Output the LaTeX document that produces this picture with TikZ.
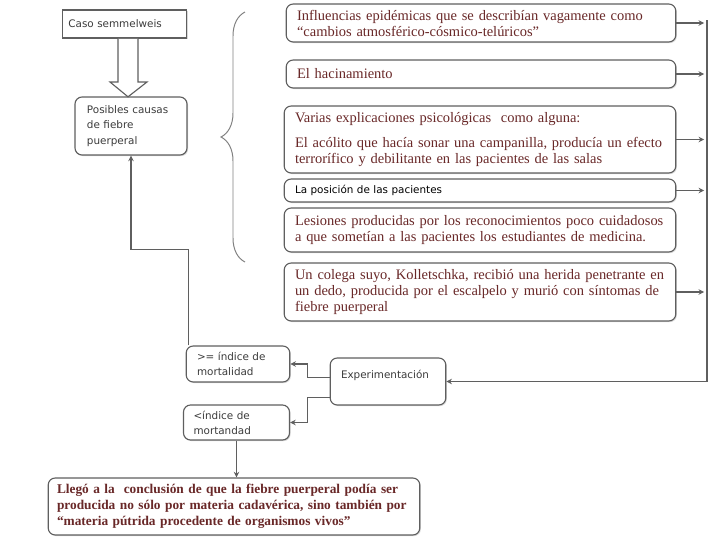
\documentclass[tikz,border=0pt]{standalone}
\usepackage{fontspec}
\setmainfont{Liberation Serif}
\setsansfont{DejaVu Sans}
\usepackage{tikz}
\usetikzlibrary{arrows.meta, positioning, calc, shadows, decorations.pathreplacing}
\definecolor{boxgray}{RGB}{95,95,95}
\definecolor{textred}{RGB}{105,40,40}
\definecolor{textgray}{RGB}{60,60,60}

\begin{document}
\begin{tikzpicture}[
        box/.style={rectangle, draw=boxgray, line width=0.8pt, rounded corners=5pt, fill=white, align=left, inner xsep=0.27cm, inner ysep=2pt,
            drop shadow={shadow xshift=0.8pt, shadow yshift=-0.8pt, fill=black!30}},
        serif/.style={font=\fontsize{10.3}{11.4}\selectfont, text=textred},
        sans/.style={font=\sffamily\fontsize{7.4}{10.8}\selectfont, text=textgray},
        arrow/.style={-{Stealth[length=4pt, width=4pt]}, line width=0.8pt, draw=boxgray}
    ]
        \useasboundingbox (0,0) rectangle (18,-13.5);

        % Left column
        \node[box, sans, rounded corners=0pt, text width=2.8cm, minimum height=0.7cm, inner xsep=0.15cm] (caso) at (3.11,-0.6) {Caso semmelweis};
        \node[box, sans, text width=2.2cm, minimum height=1.45cm, inner xsep=0.3cm] (causas) at (3.275,-3.15) {Posibles causas\\de fiebre\\puerperal};

        \draw[boxgray, line width=0.8pt, fill=white] (2.95,-0.97) -- (2.95,-2.05) -- (2.75,-2.05) -- (3.2,-2.42) -- (3.675,-2.05) -- (3.45,-2.05) -- (3.45,-0.97);

        % Brace
        \draw[decorate, decoration={brace, amplitude=0.6cm}, gray, line width=0.7pt] (6.125,-6.55) -- (6.125,-0.3);

        % Causes
        \node[box, serif, text width=9.2cm, minimum height=0.95cm] (infl) at (12.025,-0.575) {Influencias epidémicas que se describían vagamente como\\``cambios atmosférico-cósmico-telúricos''};
        \node[box, serif, text width=9.2cm, minimum height=0.7cm] (hacin) at (12.025,-1.85) {El hacinamiento};
        \node[box, serif, text width=9.25cm, minimum height=1.675cm] (psico) at (12.0,-3.4875) {Varias explicaciones psicológicas \ como alguna:\\[7pt]El acólito que hacía sonar una campanilla, producía un efecto\\terrorífico y debilitante en las pacientes de las salas};
        \node[box, sans, text=black, text width=9.25cm, minimum height=0.575cm] (posic) at (12.0,-4.7625) {La posición de las pacientes};
        \node[box, serif, text width=9.25cm, minimum height=1.1cm] (lesion) at (12.0,-5.75) {Lesiones producidas por los reconocimientos poco cuidadosos\\a que sometían a las pacientes los estudiantes de medicina.};
        \node[box, serif, text width=9.25cm, minimum height=1.45cm] (colega) at (12.0,-7.3) {Un colega suyo, Kolletschka, recibió una herida penetrante en\\un dedo, producida por el escalpelo y murió con síntomas de\\fiebre puerperal};

        % Experimentation and results
        \node[box, sans, text width=2.35cm, minimum height=1.175cm] (exper) at (9.7,-9.5375) {Experimentación\\\mbox{}};
        \node[box, sans, text width=2.05cm, minimum height=0.9cm] (mayor) at (5.95,-9.1) {>= índice de\\mortalidad};
        \node[box, sans, text width=2.15cm, minimum height=0.875cm, inner xsep=0.25cm] (menor) at (5.9125,-10.5625) {<índice de\\mortandad};
        \node[box, serif, font=\bfseries\fontsize{9.5}{11.4}\selectfont, text width=8.85cm, minimum height=1.425cm, inner xsep=0.22cm] (concl) at (5.85,-12.6625) {Llegó a la \ conclusión de que la fiebre puerperal podía ser\\producida no sólo por materia cadavérica, sino también por\\``materia pútrida procedente de organismos vivos''};

        % Connections to the collector line
        \coordinate (bus) at (17.675,-0.5);
        \foreach \n in {infl, hacin, psico, posic, colega}
            \draw[arrow] (\n.east) -- ([xshift=-2pt]\n.east -| bus);
        \draw[arrow] (bus) |- (exper.east);

        \draw[arrow] ([yshift=0.09cm]exper.west) -- ++(-0.55,0) |- (mayor.east);
        \draw[arrow] ([yshift=-0.39cm]exper.west) -- ++(-0.55,0) |- (menor.east);
        \draw[arrow] (menor.south) -- (menor.south |- concl.north);
        \draw[arrow] ([xshift=2pt]mayor.north west) -- ++(0,2.4) -| (causas.south);

    \end{tikzpicture}
\end{document}
